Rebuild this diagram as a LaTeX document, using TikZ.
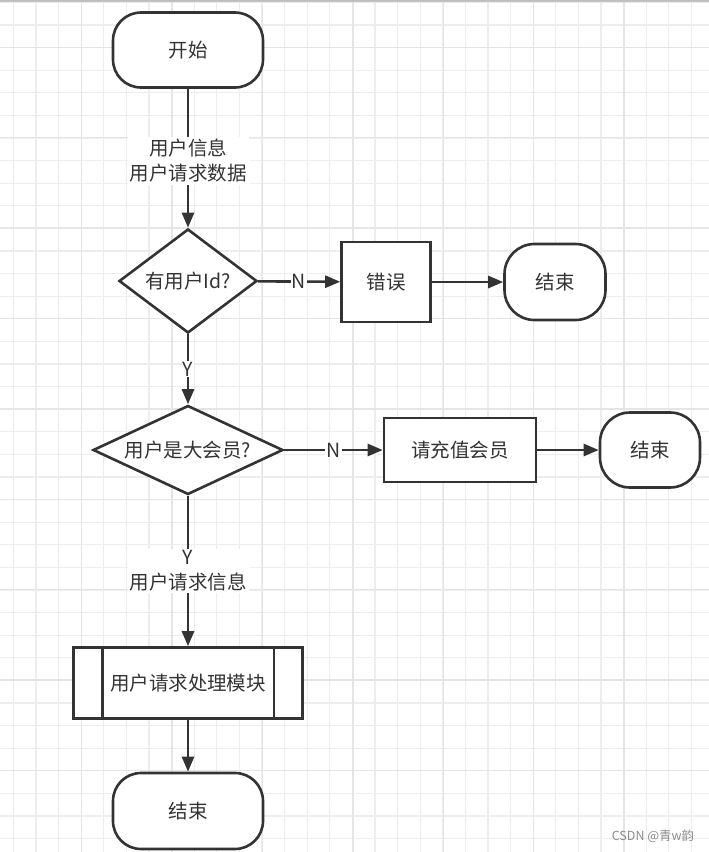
\documentclass[tikz,border=0pt]{standalone}
\usepackage{fontspec}
\setmainfont{Noto Sans CJK SC}
\usetikzlibrary{shapes.geometric,arrows.meta}
\definecolor{ink}{HTML}{333333}
\tikzset{
  base/.style={draw=ink,line width=2.6pt,text=ink,font=\fontsize{19.5}{22}\selectfont,fill=white,inner sep=0pt},
  term/.style={base,rectangle,rounded corners=28pt},
  proc/.style={base,rectangle},
  dec/.style={base,diamond},
  conn/.style={draw=ink,line width=2.6pt,-{Triangle[length=15pt,width=12pt]}},
  lab/.style={fill=white,text=ink,font=\fontsize{19.5}{25}\selectfont,inner sep=2pt,align=center},
  minorgrid/.style={draw=black!7,line width=1.2pt},
  majorgrid/.style={draw=black!10,line width=1.3pt}
}
\begin{document}
\begin{tikzpicture}[x=1pt,y=-1pt]
\useasboundingbox (0,0) rectangle (709,852);
\fill[white] (0,0) rectangle (709,852);
\foreach \i in {0,...,31} {
  \draw[minorgrid] ({13.3+22.6*\i},0) -- ({13.3+22.6*\i},852);
}
\foreach \i in {0,...,38} {
  \draw[minorgrid] (0,{2.4+22.6*\i}) -- (709,{2.4+22.6*\i});
}
\foreach \i in {0,...,7} {
  \draw[majorgrid] ({81.7+90.4*\i},0) -- ({81.7+90.4*\i},852);
}
\foreach \i in {0,...,9} {
  \draw[majorgrid] (0,{47.3+90.4*\i}) -- (709,{47.3+90.4*\i});
}
\draw[draw=black!25,line width=1.5pt] (0,1) -- (709,1);

\node[term,minimum width=150pt,minimum height=75pt] (start) at (188,50) {开始};
\node[dec,aspect=1.33,minimum width=138pt,minimum height=104pt] (d1) at (188,281) {有用户Id?};
\node[proc,minimum width=89pt,minimum height=80pt] (err) at (386,282) {错误};
\node[term,rounded corners=30pt,minimum width=101pt,minimum height=76pt] (end1) at (555,282) {结束};
\node[dec,aspect=2.13,minimum width=190pt,minimum height=89pt] (d2) at (188,450) {用户是大会员?};
\node[proc,minimum width=152pt,minimum height=64pt] (vip) at (460,450) {请充值会员};
\node[term,rounded corners=30pt,minimum width=100pt,minimum height=75pt] (end2) at (650,450) {结束};
\node[proc,minimum width=229pt,minimum height=71pt] (mod) at (188,683) {用户请求处理模块};
\draw[draw=ink,line width=2.6pt] ([xshift=30pt]mod.north west) -- ([xshift=30pt]mod.south west);
\draw[draw=ink,line width=2.6pt] ([xshift=-30pt]mod.north east) -- ([xshift=-30pt]mod.south east);
\node[term,minimum width=150pt,minimum height=76pt] (end3) at (188,811) {结束};

\draw[conn] (start) -- node[lab,pos=0.52] {用户信息\\用户请求数据} (d1);
\draw[conn] (d1) -- node[lab,inner sep=1pt] {N} (err);
\draw[conn] (err) -- (end1);
\draw[conn] (d1) -- node[lab,inner sep=1pt] {Y} (d2);
\draw[conn] (d2) -- node[lab,inner sep=1pt] {N} (vip);
\draw[conn] (vip) -- (end2);
\draw[conn] (d2) -- node[lab] {Y\\用户请求信息} (mod);
\draw[conn] (mod) -- (end3);

\node[text=black!45,font=\fontsize{12.5}{13}\selectfont,inner sep=0pt] (wm) at (653,836) {CSDN @青w韵};
\end{tikzpicture}
\end{document}
